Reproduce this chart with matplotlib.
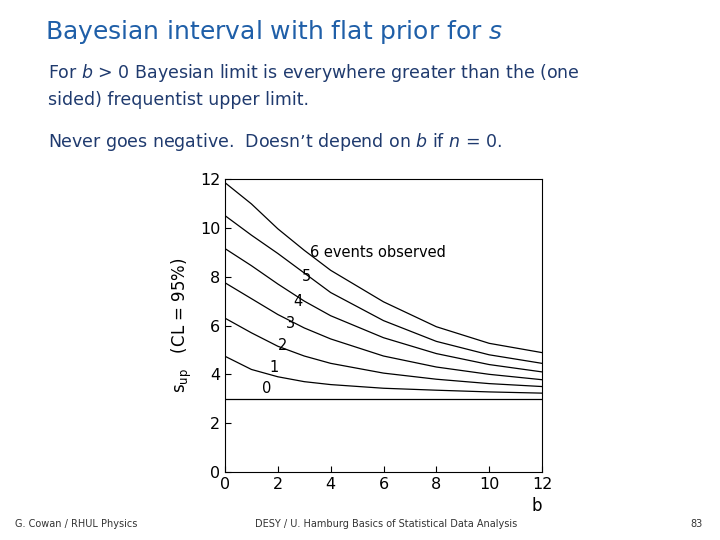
import matplotlib
matplotlib.use("Agg")
import matplotlib.pyplot as plt

b = [0, 1, 2, 3, 4, 6, 8, 10, 12]
s0 = [3.0, 3.0, 3.0, 3.0, 3.0, 3.0, 3.0, 3.0, 3.0]
s1 = [4.74, 4.2, 3.9, 3.7, 3.58, 3.43, 3.35, 3.28, 3.23]
s2 = [6.3, 5.7, 5.15, 4.75, 4.45, 4.05, 3.8, 3.62, 3.5]
s3 = [7.75, 7.1, 6.45, 5.9, 5.45, 4.75, 4.3, 4.0, 3.78]
s4 = [9.15, 8.45, 7.7, 7.0, 6.4, 5.5, 4.85, 4.4, 4.1]
s5 = [10.5, 9.7, 8.95, 8.15, 7.35, 6.2, 5.35, 4.8, 4.45]
s6 = [11.85, 10.98, 9.96, 9.08, 8.26, 6.97, 5.95, 5.27, 4.89]
series = [s0, s1, s2, s3, s4, s5, s6]
labels = ["0", "1", "2", "3", "4", "5", "6 events observed"]
label_pos = [(1.4, 3.4), (1.7, 4.3), (2.0, 5.2), (2.3, 6.1), (2.6, 7.0), (2.9, 8.0), (3.2, 9.0)]
ticks = [0, 2, 4, 6, 8, 10, 12]

fig = plt.figure(figsize=(7.2, 5.4), dpi=100)
blue = "#1F5FA8"
fig.text(45/720, 1-32/540, "Bayesian interval with flat prior for $s$", color=blue,
         fontsize=18, va="center")
body = "#1F3A6E"
fig.text(48/720, 1-73/540, "For $b$ > 0 Bayesian limit is everywhere greater than the (one", color=body, fontsize=12.5, va="center")
fig.text(48/720, 1-100/540, "sided) frequentist upper limit.", color=body, fontsize=12.5, va="center")
fig.text(48/720, 1-142/540, "Never goes negative.  Doesn’t depend on $b$ if $n$ = 0.", color=body, fontsize=12.5, va="center")
fig.text(15/720, 1-524/540, "G. Cowan / RHUL Physics", fontsize=7, color="#333333", va="center")
fig.text(255/720, 1-524/540, "DESY / U. Hamburg Basics of Statistical Data Analysis", fontsize=7, color="#333333", va="center")
fig.text(690/720, 1-524/540, "83", fontsize=7, color="#333333", va="center")

ax = fig.add_axes([225/720, 1-472/540, 317/720, 293/540])
for s in series:
    ax.plot(b, s, color="black", lw=0.9)
for lab, (x, y) in zip(labels, label_pos):
    ax.text(x, y, lab, fontsize=10.5, ha="left", va="center")
ax.set_xlim(0, 12)
ax.set_ylim(0, 12)
ax.set_xticks(ticks)
ax.set_yticks(ticks)
ax.tick_params(direction="in", labelsize=11.5, length=4)
ax.set_xlabel("b", fontsize=12, loc="right")
ax.set_ylabel(r"s$_{\rm up}$   (CL = 95%)", fontsize=12)
fig.savefig("out.png", dpi=100)
